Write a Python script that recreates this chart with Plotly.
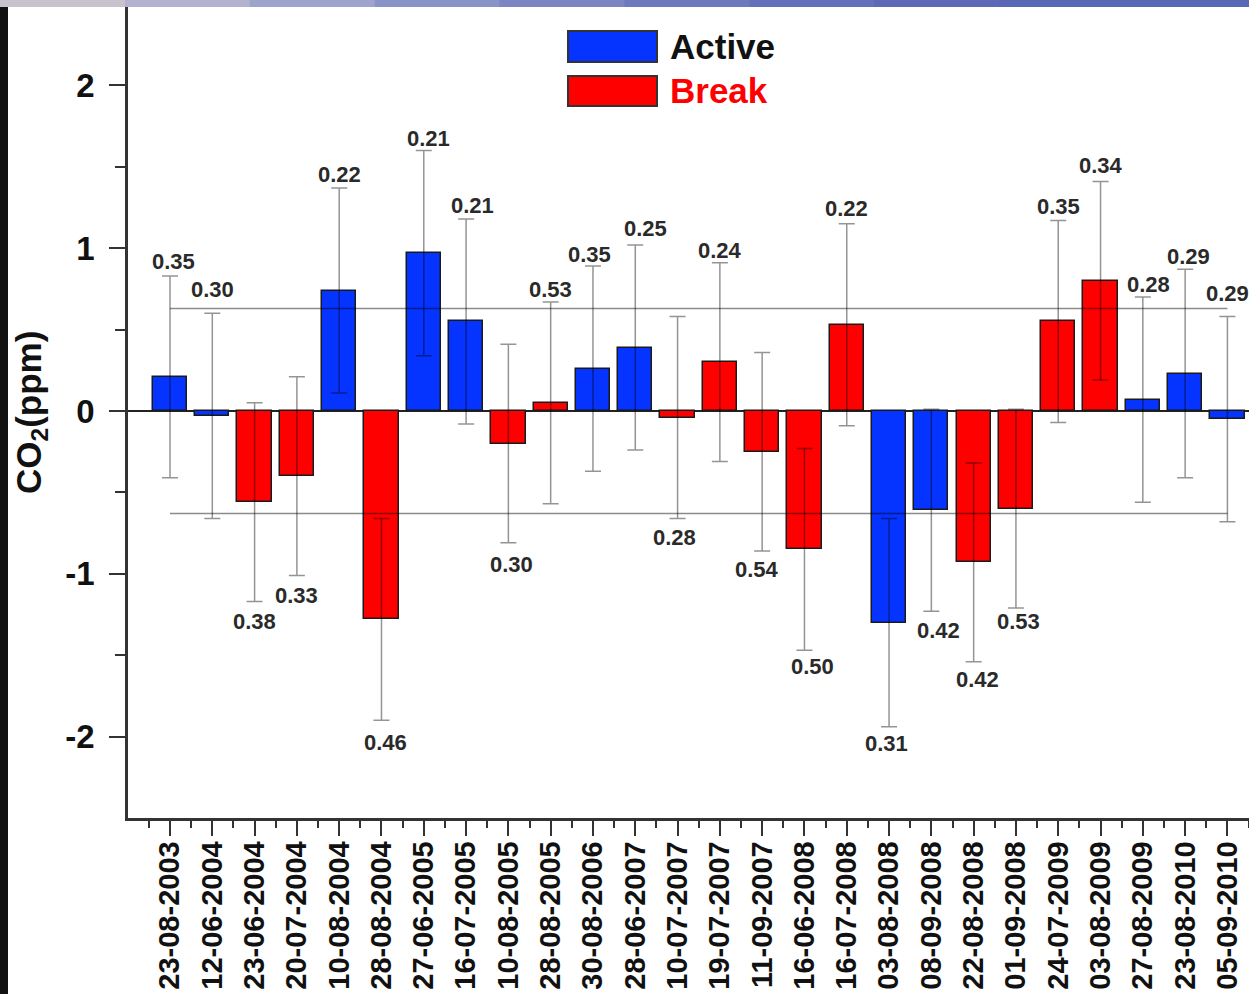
import plotly.graph_objects as go

# Sampling dates and monsoon phase of each flight
dates = ["23-08-2003", "12-06-2004", "23-06-2004", "20-07-2004", "10-08-2004",
         "28-08-2004", "27-06-2005", "16-07-2005", "10-08-2005", "28-08-2005",
         "30-08-2006", "28-06-2007", "10-07-2007", "19-07-2007", "11-09-2007",
         "16-06-2008", "16-07-2008", "03-08-2008", "08-09-2008", "22-08-2008",
         "01-09-2008", "24-07-2009", "03-08-2009", "27-08-2009", "23-08-2010",
         "05-09-2010"]
phase = ["Active", "Active", "Break", "Break", "Active", "Break", "Active", "Active",
         "Break", "Break", "Active", "Active", "Break", "Break", "Break", "Break",
         "Break", "Active", "Active", "Break", "Break", "Break", "Break", "Active",
         "Active", "Active"]

# CO2 anomaly (ppm) and its uncertainty
co2_anomaly = [0.21, -0.03, -0.56, -0.40, 0.74, -1.28, 0.97, 0.55, -0.20, 0.05,
               0.26, 0.39, -0.04, 0.30, -0.25, -0.85, 0.53, -1.30, -0.61, -0.93,
               -0.60, 0.55, 0.80, 0.07, 0.23, -0.05]
co2_error = [0.62, 0.63, 0.61, 0.61, 0.63, 0.62, 0.63, 0.63, 0.61, 0.62,
             0.63, 0.63, 0.62, 0.61, 0.61, 0.62, 0.62, 0.64, 0.62, 0.61,
             0.61, 0.62, 0.61, 0.63, 0.64, 0.63]

# Values printed next to each error bar
value_labels = ["0.35", "0.30", "0.38", "0.33", "0.22", "0.46", "0.21", "0.21",
                "0.30", "0.53", "0.35", "0.25", "0.28", "0.24", "0.54", "0.50",
                "0.22", "0.31", "0.42", "0.42", "0.53", "0.35", "0.34", "0.28",
                "0.29", "0.29"]
label_side = ["up", "up", "down", "down", "up", "down", "up", "up", "down", "up",
              "up", "up", "down", "up", "down", "down", "up", "down", "down", "down",
              "down", "up", "up", "up", "up", "up"]

# Reference band (ppm)
band_limits = [0.63, -0.63]

y_ticks = [-2, -1, 0, 1, 2]
y_minor = [-1.5, -0.5, 0.5, 1.5]

# label nudges in px (horizontal, distance from the cap)
label_dx = [3, 0, 0, 0, 0, 4, 5, 6, 3, 0, -3, 10, -3, 0, -5, 8, 0, -3, 7, 4, 3, 0, 0, 6, 3, 0]
label_gap = [14, 24, 20, 20, 13, 22, 12, 13, 22, 12, 12, 16, 19, 12, 18, 16, 15, 17,
             19, 18, 14, 14, 16, 13, 13, 23]

colors = {"Active": "#0533ff", "Break": "#ff0000"}
FONT = "Liberation Sans, Arial, sans-serif"

W, H = 1249, 994
ML, MR, MT, MB = 128, 0, 4, 176
PW, PH = W - ML - MR, H - MT - MB


def px(x):
    return (x - ML) / PW


def py(y):
    return (H - MB - y) / PH


idx = list(range(len(dates)))
fig = go.Figure()
for name in ["Active", "Break"]:
    sel = [i for i in idx if phase[i] == name]
    fig.add_trace(go.Bar(
        x=sel,
        y=[co2_anomaly[i] for i in sel],
        name=name,
        width=0.81,
        marker=dict(color=colors[name], line=dict(color="#1a1a1a", width=1.5)),
        error_y=dict(type="data", array=[co2_error[i] for i in sel], visible=True,
                     color="rgba(0,0,0,0.42)", thickness=1.5, width=8),
        showlegend=False,
    ))

# reference band lines
for lim in band_limits:
    fig.add_shape(type="line", xref="x", yref="y", x0=0, x1=len(dates) - 1,
                  y0=lim, y1=lim, layer="above",
                  line=dict(color="rgba(0,0,0,0.45)", width=1.5))

# value annotations at the end of each error bar
for i in idx:
    if label_side[i] == "up":
        yv = co2_anomaly[i] + co2_error[i]
        ys = label_gap[i]
    else:
        yv = co2_anomaly[i] - co2_error[i]
        ys = -label_gap[i]
    fig.add_annotation(x=i, y=yv, xref="x", yref="y", text=value_labels[i],
                       showarrow=False, xanchor="center", yanchor="middle",
                       xshift=label_dx[i], yshift=ys,
                       font=dict(family=FONT, size=22, color="#2a2a2a", weight="bold"))

# legend boxes and texts
legend_rows = [("Active", 31, 62, 46, "#111111"), ("Break", 76, 106, 91, "#ff0000")]
for name, top, bot, mid, tcol in legend_rows:
    fig.add_shape(type="rect", xref="paper", yref="paper",
                  x0=px(568), x1=px(657), y0=py(bot), y1=py(top),
                  fillcolor=colors[name], line=dict(color="#333333", width=2))
    fig.add_annotation(xref="paper", yref="paper", x=px(668), y=py(mid),
                       text=name, showarrow=False, xanchor="left", yanchor="middle",
                       font=dict(family=FONT, size=35, color=tcol, weight="bold"))

# y-axis title
fig.add_annotation(xref="paper", yref="paper", x=px(31), y=py(413),
                   text="CO<sub>2</sub>(ppm)", textangle=-90, showarrow=False,
                   xanchor="center", yanchor="middle",
                   font=dict(family=FONT, size=35, color="#111111", weight="bold"))

# frame strips along the top and left edges
band_cols = ["#c7c2cc", "#b3b3cf", "#9ea3cc", "#8a93c7", "#7a85c2", "#6d79bd",
             "#6470ba", "#5d69b7", "#5a66b6", "#5a66b6"]
n = len(band_cols)
for k, c in enumerate(band_cols):
    fig.add_shape(type="rect", xref="paper", yref="paper",
                  x0=px(k * W / n), x1=px((k + 1) * W / n + 1), y0=py(7), y1=py(0),
                  fillcolor=c, line=dict(width=0), layer="above")
fig.add_shape(type="rect", xref="paper", yref="paper",
              x0=px(0), x1=px(8), y0=py(H), y1=py(7),
              fillcolor="#111111", line=dict(width=0), layer="above")

fig.update_layout(
    width=W, height=H,
    margin=dict(l=ML, r=MR, t=MT, b=MB, pad=0),
    paper_bgcolor="white", plot_bgcolor="white",
    barmode="overlay",
    bargap=0,
    font=dict(family=FONT, color="#111111"),
    xaxis=dict(
        range=[-0.993, 25.51],
        tickmode="array", tickvals=idx, ticktext=dates, tickangle=-90,
        ticks="outside", ticklen=15, tickwidth=2, tickcolor="#333333",
        minor=dict(tickmode="array", tickvals=[i + 0.5 for i in range(-1, len(dates))],
                   ticks="outside", ticklen=7, tickwidth=2, tickcolor="#333333"),
        showline=True, linewidth=2.5, linecolor="#333333",
        showgrid=False, zeroline=False,
        ticklabelstandoff=-6,
        tickfont=dict(family=FONT, size=29, color="#111111", weight="bold"),
    ),
    yaxis=dict(
        range=[-2.5, 2.5],
        tickmode="array", tickvals=y_ticks, ticktext=[str(v) for v in y_ticks],
        ticks="outside", ticklen=16, tickwidth=2, tickcolor="#333333",
        minor=dict(tickmode="array", tickvals=y_minor, ticks="outside",
                   ticklen=10, tickwidth=2, tickcolor="#333333"),
        showline=True, linewidth=2.5, linecolor="#333333",
        showgrid=False,
        zeroline=True, zerolinecolor="#222222", zerolinewidth=2,
        ticklabelstandoff=8,
        tickfont=dict(family=FONT, size=33, color="#111111", weight="bold"),
    ),
)

fig.write_html("out.html")
